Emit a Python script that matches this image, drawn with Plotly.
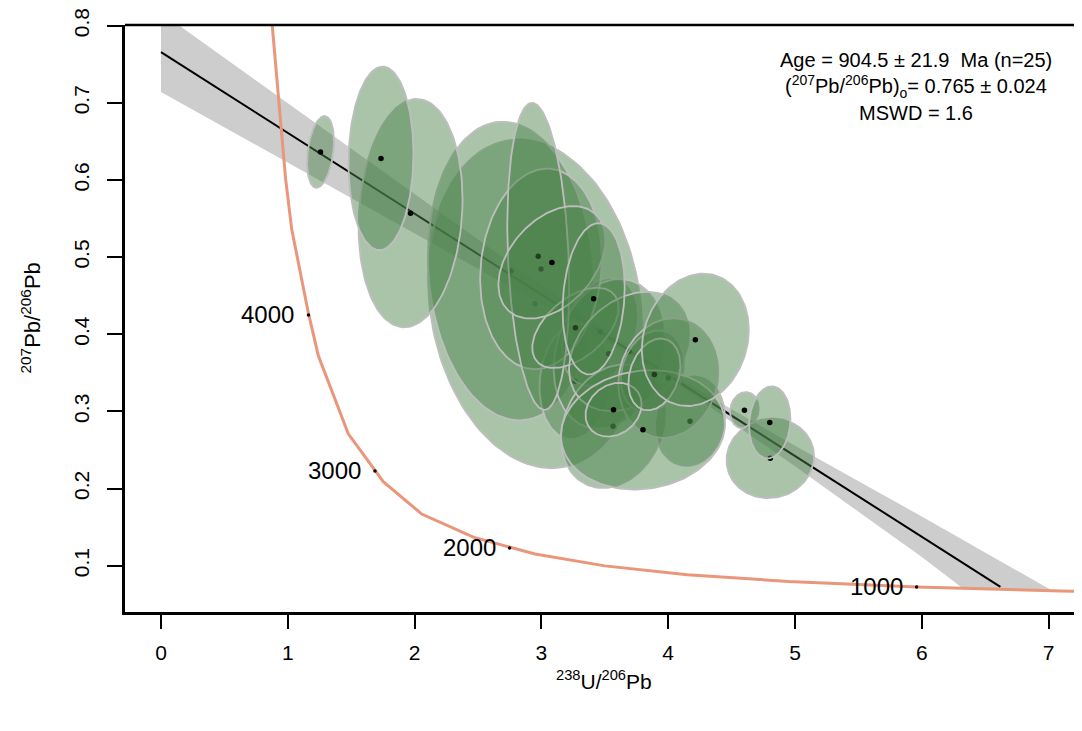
import numpy as np
import plotly.graph_objects as go

# ---------------- data ----------------
# analyses, in plotting order: 238U/206Pb, 207Pb/206Pb, error-ellipse half-extents, correlation
U238_Pb206 = [2.950, 2.760, 3.265, 3.462, 3.531, 3.565, 4.172, 2.997, 2.975, 3.268,
              3.691, 3.875, 4.001, 3.801, 3.083, 3.412, 3.569, 3.891, 4.214, 4.601,
              4.805, 4.801, 1.968, 1.735, 1.258]
Pb207_Pb206 = [0.4396, 0.4820, 0.3390, 0.4033, 0.3747, 0.2807, 0.2874, 0.4847, 0.5010, 0.4083,
               0.3777, 0.3520, 0.3432, 0.2761, 0.4932, 0.4460, 0.3022, 0.3480, 0.3928, 0.3015,
               0.2392, 0.2858, 0.5570, 0.6280, 0.6364]
err_x = [0.844, 0.655, 0.280, 0.300, 0.434, 0.410, 0.276, 0.480, 0.244, 0.340,
         0.473, 0.248, 0.394, 0.647, 0.422, 0.245, 0.221, 0.205, 0.422, 0.113,
         0.345, 0.163, 0.410, 0.256, 0.106]
err_y = [0.213, 0.1935, 0.075, 0.070, 0.097, 0.080, 0.058, 0.130, 0.199, 0.052,
         0.0774, 0.053, 0.0774, 0.0774, 0.0729, 0.098, 0.0348, 0.0465, 0.0858, 0.0236,
         0.0516, 0.0467, 0.148, 0.119, 0.0465]
rho = [-0.15, -0.10, 0.10, 0.30, 0.20, 0.20, 0.10, 0.10, -0.20, 0.50,
       0.30, 0.20, 0.10, 0.10, 0.40, 0.15, 0.20, 0.25, 0.15, 0.10,
       0.05, 0.10, 0.12, 0.05, 0.30]

# concordia curve vertices
conc_x = [0.853, 0.983, 1.031, 1.163, 1.241, 1.477, 1.753, 2.056, 2.463, 2.95, 3.50, 4.15, 4.95, 5.96, 7.10, 7.40]
conc_y = [0.846, 0.601, 0.536, 0.427, 0.372, 0.271, 0.209, 0.167, 0.137, 0.1151, 0.0998, 0.0884, 0.0796, 0.0725, 0.0672, 0.0660]

# age markers on the concordia (Ma)
age_labels = ["1000", "2000", "3000", "4000"]
age_x = [5.959, 2.749, 1.6875, 1.163]
age_y = [0.0725, 0.1230, 0.2228, 0.4251]

# isochron (discordia) line and its error envelope
line_x = [0.0, 6.62]
line_y = [0.7657, 0.0726]
band_upper_x = [0.0, 1.0, 2.0, 3.0, 3.97, 5.0, 6.0, 7.02]
band_upper_y = [0.8172, 0.6995, 0.5819, 0.4642, 0.3531, 0.2556, 0.1638, 0.0685]
band_lower_x = [0.0, 1.0, 2.0, 3.0, 3.97, 5.0, 6.0, 6.32]
band_lower_y = [0.7142, 0.6225, 0.5307, 0.4390, 0.3471, 0.2288, 0.1112, 0.0712]

x_ticks = [0, 1, 2, 3, 4, 5, 6, 7]
y_ticks = [0.1, 0.2, 0.3, 0.4, 0.5, 0.6, 0.7, 0.8]

stats_lines = ["Age = 904.5 ± 21.9  Ma (n=25)",
               "(<sup>207</sup>Pb/<sup>206</sup>Pb)<sub>o</sub>= 0.765 ± 0.024",
               "MSWD = 1.6"]

# ---------------- figure ----------------
FONT = "Liberation Sans, Arial, Helvetica, sans-serif"
fig = go.Figure()

# error envelope
bx = band_upper_x + band_lower_x[::-1]
by = band_upper_y + band_lower_y[::-1]
fig.add_trace(go.Scatter(x=bx, y=by, fill="toself", mode="lines",
                         fillcolor="#CDCDCD", line=dict(width=0), hoverinfo="skip"))
# regression line
fig.add_trace(go.Scatter(x=line_x, y=line_y, mode="lines",
                         line=dict(color="black", width=2)))
# concordia
fig.add_trace(go.Scatter(x=conc_x, y=conc_y, mode="lines",
                         line=dict(color="#E9967A", width=3)))
fig.add_trace(go.Scatter(x=age_x, y=age_y, mode="markers",
                         marker=dict(color="black", size=3.5)))

# error ellipses + centres
t = np.linspace(0, 2 * np.pi, 150)
for cx, cy, sx, sy, r in zip(U238_Pb206, Pb207_Pb206, err_x, err_y, rho):
    ex = cx + sx * np.cos(t)
    ey = cy + sy * (r * np.cos(t) + np.sqrt(1 - r * r) * np.sin(t))
    fig.add_trace(go.Scatter(x=ex, y=ey, mode="lines", fill="toself",
                             fillcolor="rgba(75,130,75,0.47)",
                             line=dict(color="#BEBEBE", width=1.8)))
    fig.add_trace(go.Scatter(x=[cx], y=[cy], mode="markers",
                             marker=dict(color="black", size=5.5)))

annotations = []
for lab, ax_, ay_ in zip(age_labels, age_x, age_y):
    annotations.append(dict(x=ax_, y=ay_, xref="x", yref="y", text=lab, showarrow=False,
                            xanchor="right", yanchor="middle", xshift=-12,
                            font=dict(family=FONT, size=24, color="black")))

stats_y = [0.7557, 0.7209, 0.6874]
for s, sy_ in zip(stats_lines, stats_y):
    annotations.append(dict(x=5.954, y=sy_, xref="x", yref="y", text=s, showarrow=False,
                            xanchor="center", yanchor="middle",
                            font=dict(family=FONT, size=20, color="black")))

annotations.append(dict(x=0.5, y=0, xref="paper", yref="paper",
                        text="<sup>238</sup>U/<sup>206</sup>Pb", showarrow=False,
                        xanchor="center", yanchor="middle", yshift=-68,
                        font=dict(family=FONT, size=21, color="black")))
annotations.append(dict(x=0, y=0.5, xref="paper", yref="paper",
                        text="<sup>207</sup>Pb/<sup>206</sup>Pb", showarrow=False,
                        textangle=-90, xanchor="center", yanchor="middle", xshift=-95,
                        font=dict(family=FONT, size=22, color="black")))

# the page body has an 8px margin, so the figure is sized/offset to compensate
fig.update_layout(
    width=1074, height=723,
    margin=dict(l=117, r=0, t=14, b=119, pad=0),
    paper_bgcolor="white", plot_bgcolor="white",
    showlegend=False,
    annotations=annotations,
    font=dict(family=FONT, size=21, color="black"),
    shapes=[dict(type="line", xref="paper", yref="paper", x0=0, x1=1, y0=1, y1=1,
                 line=dict(color="black", width=2.5))],
)
fig.update_xaxes(range=[-0.2839, 7.2634], tickvals=x_ticks, ticktext=[str(v) for v in x_ticks],
                 showgrid=False, zeroline=False, showline=True, linecolor="black", linewidth=2.5,
                 ticks="outside", ticklen=14, tickwidth=2, tickcolor="black",
                 ticklabelstandoff=6, ticklabeloverflow="allow",
                 tickfont=dict(family=FONT, size=21))
fig.update_yaxes(range=[0.04, 0.8009], tickvals=y_ticks, ticktext=[f"{v:.1f}" for v in y_ticks],
                 showgrid=False, zeroline=False, showline=True, linecolor="black", linewidth=2.5,
                 ticks="outside", ticklen=15, tickwidth=2, tickcolor="black",
                 tickangle=-90, ticklabelstandoff=10, ticklabeloverflow="allow",
                 tickfont=dict(family=FONT, size=21))

fig.write_html("out.html")
